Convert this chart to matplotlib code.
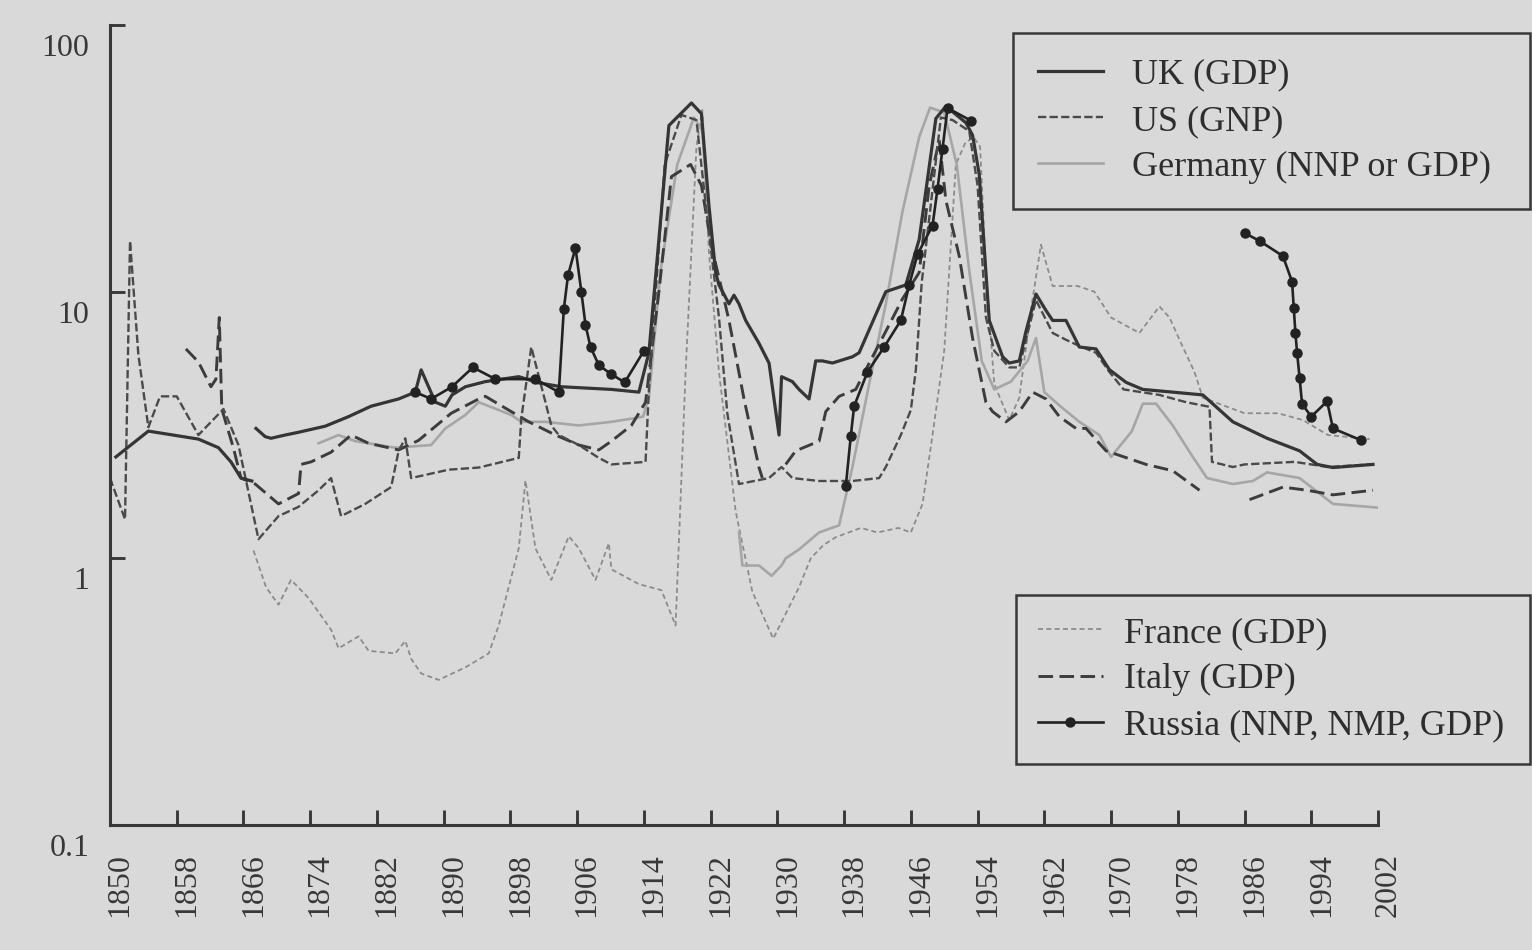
import numpy as np
import matplotlib
matplotlib.use("Agg")
import matplotlib.pyplot as plt
import matplotlib.transforms as mtransforms
from matplotlib.ticker import NullLocator

nan = np.nan

# ---------------- data ----------------
uk_years = [1850.7, 1854.6, 1860.6, 1863, 1864.5, 1865.7, 1867.0, nan,
            1867.5, 1868.6, 1869.3, 1871, 1872.6, 1875.8, 1878.6, 1881.3, 1884.6, 1886.6,
            1887.3, 1889, 1890.2, 1891, 1892.6, 1895, 1899, 1901.4, 1904.1, 1910.1, 1913.4,
            1914.6, 1917, 1919.7, 1920.9, 1921.8, 1922.6, 1923, 1924.2, 1924.8, 1925.4,
            1926.2, 1927.8, 1929, 1930.2, 1930.5, 1931.8, 1932.6, 1933.8, 1934.6, 1935.4,
            1936.6, 1939, 1939.8, 1943, 1945.4, 1947, 1949, 1950.2, 1952.6, 1953.4, 1954.2,
            1955, 1955.4, 1957, 1957.8, 1959, 1959.8, 1961, 1962.2, 1963, 1964.6, 1966.2,
            1968.2, 1969.8, 1971.8, 1973.8, 1977.4, 1981, 1984.6, 1988.7, 1992.6, 1994.7,
            1996.6, 2001.4]
uk_vals = [2.4, 3.0, 2.8, 2.6, 2.3, 2.0, 1.95, nan,
           3.07, 2.86, 2.82, 2.9, 2.97, 3.13, 3.4, 3.72, 3.96, 4.2,
           5.09, 3.85, 3.72, 4.1, 4.4, 4.6, 4.8, 4.55, 4.4, 4.3, 4.2,
           5.9, 42, 51, 46.5, 21, 11.8, 10.6, 9.0, 9.7, 9.0,
           7.8, 6.4, 5.4, 2.9, 4.8, 4.6, 4.3, 3.96, 5.5, 5.5,
           5.4, 5.7, 5.9, 10, 10.6, 15.7, 44.6, 49.6, 43, 38.6, 27.5,
           11.8, 7.8, 5.7, 5.4, 5.5, 7.1, 9.8, 8.5, 7.8, 7.8, 6.2,
           6.1, 5.1, 4.57, 4.3, 4.2, 4.1, 3.25, 2.82, 2.53, 2.25,
           2.19, 2.25]

us_years = [1850, 1851.8, 1852.4, 1853.4, 1854.6, 1856, 1858, 1860.6, 1863.6, 1865.4,
            1867.8, 1870.2, 1872.6, 1875, 1876.5, 1877.7, 1880.6, 1883.7, 1884.6, 1885.4,
            1886.1, 1890.6, 1894.2, 1899, 1899.3, 1900.5, 1902.2, 1902.9, 1903.8, 1906.2,
            1908.6, 1910.1, 1914.2, 1914.6, 1916.5, 1918.5, 1920.3, 1921.5, 1923, 1924,
            1925.4, 1929, 1930.5, 1931.8, 1935, 1939, 1942.2, 1943, 1944.8, 1946, 1946.6,
            1947.3, 1948.3, 1949.6, 1951, 1953, 1954, 1955, 1956, 1957.8, 1959, 1960, 1961,
            1963, 1964.6, 1966, 1968.2, 1969.8, 1971.5, 1975.8, 1979, 1981.8, 1982.1,
            1984.6, 1986, 1992, 1996, 2001]
us_vals = [2.0, 1.4, 15.5, 5.8, 3.1, 4.05, 4.05, 2.9, 3.63, 2.66,
           1.18, 1.44, 1.56, 1.8, 2.0, 1.44, 1.6, 1.85, 2.53, 2.82,
           2.0, 2.15, 2.19, 2.38, 3.34, 6.2, 3.85, 3.15, 2.9, 2.66,
           2.38, 2.25, 2.3, 4.3, 30, 46, 44, 20, 8, 3.5,
           1.9, 2.0, 2.2, 2.0, 1.95, 1.95, 2.0, 2.2, 2.9, 3.6, 5.1,
           10.8, 20, 45, 44, 40, 25, 8, 6, 5.2, 5.2, 7, 9.3,
           7, 6.6, 6.3, 5.9, 5.0, 4.3, 4.1, 3.85, 3.7, 2.3,
           2.2, 2.25, 2.3, 2.2, 2.25]

de_years = [1875, 1877.4, 1879.4, 1884.2, 1888.5, 1890.2, 1892.6, 1894.2, 1898.1, 1899.3,
            1902.2, 1906.2, 1910.1, 1912.5, 1913.9, 1914.6, 1916, 1918, 1920, 1921, 1922, nan,
            1925.4, 1925.8, 1927.8, 1929.3, 1930.5, 1931, 1932.6, 1935, 1937.4, 1939, 1941,
            1943, 1945, 1947, 1948.3, 1950, 1951.5, 1953, 1954.5, 1956, 1958, 1960, 1961,
            1962, 1964, 1966.2, 1968.6, 1970, 1972.5, 1973.8, 1975.4, 1977.4, 1979.8, 1981.5,
            1984.6, 1987, 1988.7, 1992.6, 1996.6, 2001.9]
de_vals = [2.7, 2.9, 2.75, 2.6, 2.66, 3.07, 3.45, 3.85, 3.45, 3.25,
           3.25, 3.15, 3.25, 3.34, 3.4, 4.0, 12, 30, 45, 40, 15, nan,
           1.25, 0.94, 0.94, 0.86, 0.94, 1.0, 1.08, 1.25, 1.33, 2.2, 4.5,
           9, 20, 38, 49, 47, 30, 12, 5.5, 4.3, 4.6, 5.5, 6.7,
           4.2, 3.7, 3.25, 2.9, 2.4, 3.0, 3.8, 3.8, 3.15, 2.4, 2.0,
           1.9, 1.95, 2.1, 2.0, 1.6, 1.55]

fr_years = [1867.2, 1868.7, 1870.2, 1871.7, 1873.8, 1876.5, 1877.4, 1879.8, 1881, 1884.2,
            1885.4, 1886.1, 1887.3, 1889.4, 1892.6, 1895.4, 1896.6, 1899, 1899.8, 1901,
            1902.9, 1905, 1906.2, 1908.2, 1909.8, 1910.1, 1913.4, 1916.1, 1917.8, 1919,
            1920.3, 1921, 1921.8, 1923, 1925, 1927, 1929.5, 1931, 1932.6, 1934, 1935.5, 1937,
            1940, 1942, 1944.5, 1946, 1947.4, 1948.6, 1950, 1951.4, 1952.5, 1953.5, 1954.3,
            1955, 1956, 1957.8, 1959, 1960.5, 1961.6, 1963, 1966, 1968, 1970, 1973.4, 1975.8,
            1977, 1978.5, 1980, 1981, 1986, 1990, 1993, 1996, 2001]
fr_vals = [1.07, 0.78, 0.67, 0.83, 0.71, 0.54, 0.46, 0.51, 0.45, 0.44,
           0.49, 0.42, 0.37, 0.35, 0.39, 0.44, 0.56, 1.09, 1.96, 1.09,
           0.83, 1.21, 1.09, 0.83, 1.14, 0.91, 0.80, 0.76, 0.56, 5,
           35, 48, 14, 5, 1.5, 0.75, 0.5, 0.62, 0.78, 1.0, 1.12, 1.2,
           1.3, 1.25, 1.3, 1.25, 1.6, 2.9, 6, 30, 36, 38, 35,
           12, 4.5, 3.3, 4, 9, 15, 10.5, 10.5, 10, 8, 7, 8.8,
           8, 6.3, 5, 4.0, 3.5, 3.5, 3.3, 2.9, 2.8]

it_years = [1859.1, 1860.6, 1862.1, 1862.7, 1863.1, 1863.4, 1864.8, 1865.7, 1867.4, 1870.2,
            1872.6, 1872.9, 1874.1, 1876.5, 1878.9, 1881, 1884.6, 1887, 1889.4, 1890.9,
            1894.2, 1895, 1898.1, 1900.2, 1903.4, 1906.2, 1908.6, 1910.1, 1912.5, 1914.2,
            1915.8, 1917.3, 1919.6, 1920.9, 1922.1, 1923.4, 1924.2, 1926, 1927.8, 1928.2, nan,
            1931, 1932.2, 1935, 1935.8, 1937.4, 1939.4, 1940.6, 1943, 1945, 1947, 1948.2,
            1949.4, 1950.2, 1951.8, 1953.4, 1955, 1955.8, 1957.4, 1959, 1960.6, 1962.2,
            1963.8, 1965.8, 1967, 1969.4, 1974.2, 1977.4, 1980.6, nan,
            1986.6, 1990.6, 1993.5, 1996.6, 2001.4]
it_vals = [6.1, 5.45, 4.4, 4.7, 8.0, 3.63, 2.59, 2.0, 1.9, 1.6,
           1.75, 2.25, 2.3, 2.5, 2.9, 2.7, 2.55, 2.77, 3.2, 3.5,
           3.96, 4.05, 3.55, 3.25, 2.9, 2.66, 2.55, 2.75, 3.15, 3.85,
           10, 27, 30, 25, 14.8, 10, 7.8, 3.96, 2.19, 2.0, nan,
           2.25, 2.53, 2.75, 3.55, 4.05, 4.3, 5.1, 7.1, 9.4, 11.8, 25,
           37, 22, 13.6, 6.7, 3.85, 3.55, 3.25, 3.55, 4.2, 3.96,
           3.4, 3.07, 3.07, 2.53, 2.25, 2.13, 1.8, nan,
           1.66, 1.85, 1.8, 1.73, 1.8]

ru_years = [1886.6, 1888.5, 1891, 1893.5, 1896.2, 1901, 1903.8, 1904.4, 1904.9, 1905.8,
            1906.5, 1907, 1907.6, 1908.6, 1910.1, 1911.7, 1914, nan,
            1938.2, 1938.8, 1939.2, 1940.8, 1942.8, 1944.8, 1945.8, 1946.8, 1948.6, 1949.2,
            1949.8, 1950.4, 1953.2, nan,
            1986, 1987.8, 1990.6, 1991.7, 1991.9, 1992.1, 1992.3, 1992.6, 1992.9, 1994,
            1995.9, 1996.6, 2000]
ru_vals = [4.2, 3.96, 4.4, 5.2, 4.7, 4.7, 4.2, 8.6, 11.5, 14.6,
           10, 7.5, 6.2, 5.3, 4.9, 4.57, 6.0, nan,
           1.86, 2.87, 3.72, 5.0, 6.2, 7.8, 10.6, 13.8, 17.7, 24.3,
           34.4, 48.8, 43.8, nan,
           16.6, 15.5, 13.6, 10.9, 8.7, 7.0, 5.9, 4.76, 3.79, 3.4,
           3.88, 3.07, 2.77]

labels = ["UK (GDP)", "US (GNP)", "Germany (NNP or GDP)",
          "France (GDP)", "Italy (GDP)", "Russia (NNP, NMP, GDP)"]
x_ticks = list(range(1850, 2003, 8))
y_ticks = [0.1, 1, 10, 100]
y_ticklabels = ["0.1", "1", "10", "100"]

# ---------------- drawing ----------------
plt.rcParams['font.family'] = ['Liberation Serif', 'DejaVu Serif']
bg = '#d9d9d9'
ink = '#383838'

fig = plt.figure(figsize=(15.32, 9.5), dpi=100)
fig.patch.set_facecolor(bg)
ax = fig.add_axes([110/1532, 1-825/950, (1378-110)/1532, 800/950])
ax.set_facecolor(bg)
ax.set_yscale('log')
ax.set_xlim(1850, 2002)
ax.set_ylim(0.1, 100)

l_fr, = ax.plot(fr_years, fr_vals, color='#8c8c8c', lw=1.3, dashes=(2.8, 1.8), label=labels[3])
l_de, = ax.plot(de_years, de_vals, color='#a6a6a6', lw=1.9, label=labels[2])
l_it, = ax.plot(it_years, it_vals, color='#3c3c3c', lw=2.1, dashes=(5.0, 2.2), label=labels[4])
l_us, = ax.plot(us_years, us_vals, color='#4a4a4a', lw=1.7, dashes=(3.5, 1.4), label=labels[1])
l_uk, = ax.plot(uk_years, uk_vals, color='#353535', lw=2.3, label=labels[0])
l_ru, = ax.plot(ru_years, ru_vals, color='#222222', lw=1.9, marker='o', ms=6.5, label=labels[5])

for s in ['top', 'right']:
    ax.spines[s].set_visible(False)
for s in ['left', 'bottom']:
    ax.spines[s].set_color(ink)
    ax.spines[s].set_linewidth(2.2)

ax.set_xticks(x_ticks)
ax.set_xticklabels([str(t) for t in x_ticks])
ax.set_yticks(y_ticks)
ax.set_yticklabels(y_ticklabels)
ax.yaxis.set_minor_locator(NullLocator())
ax.tick_params(axis='x', direction='in', length=11, width=2.1, colors=ink,
               labelsize=23, pad=20, labelrotation=90)
ax.tick_params(axis='y', direction='in', length=11, width=2.1, colors=ink,
               labelsize=23, pad=15)

dy = mtransforms.ScaledTranslation(0, -0.2, fig.dpi_scale_trans)
for lbl in ax.get_yticklabels():
    lbl.set_transform(lbl.get_transform() + dy)
dx = mtransforms.ScaledTranslation(0.10, 0, fig.dpi_scale_trans)
for lbl in ax.get_xticklabels():
    lbl.set_transform(lbl.get_transform() + dx)

def make_legend(handles, x0, y0, x1, y1, tpad, bpad):
    leg = ax.legend(handles=handles, loc='upper left',
                    bbox_to_anchor=(x0/1532, 1-y1/950, (x1-x0)/1532, (y1-y0)/950),
                    bbox_transform=fig.transFigure, mode='expand', borderaxespad=0,
                    fontsize=26, labelspacing=0.36, borderpad=bpad,
                    handlelength=1.8, handletextpad=tpad, fancybox=False,
                    framealpha=1, facecolor=bg, edgecolor=ink, numpoints=1)
    leg.get_frame().set_linewidth(1.8)
    for t in leg.get_texts():
        t.set_color('#2e2e2e')
    return leg

leg1 = make_legend([l_uk, l_us, l_de], 1013, 33, 1530, 205, 0.8, 0.7)
ax.add_artist(leg1)
leg2 = make_legend([l_fr, l_it, l_ru], 1016, 595, 1530, 768, 0.6, 0.6)

fig.savefig('out.png', dpi=100, facecolor=bg)
